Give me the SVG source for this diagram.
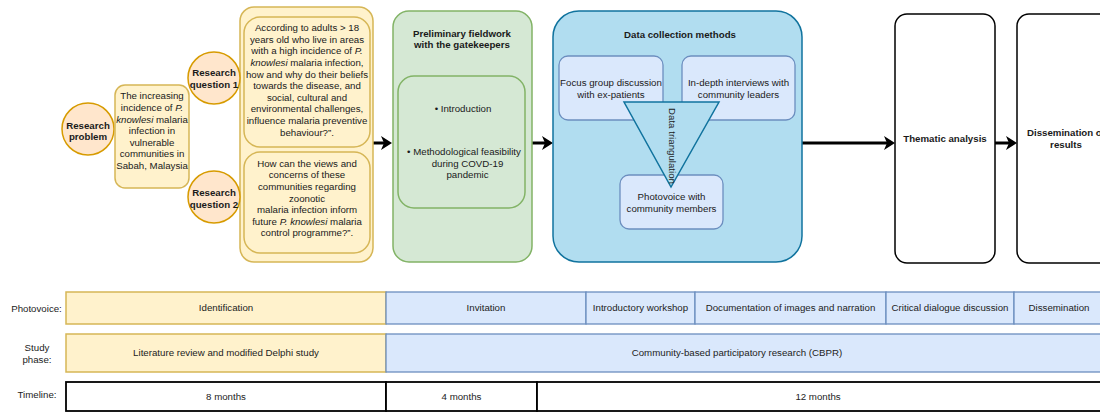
<svg xmlns="http://www.w3.org/2000/svg" width="1100" height="412" viewBox="0 0 1100 412">
<style>
text{font-family:"Liberation Sans",Arial,sans-serif;font-size:9.7px;fill:#1a1a1a;text-anchor:middle}
.b{font-weight:bold}
.i{font-style:italic}
.circ{fill:#ffe6cc;stroke:#d79b00;stroke-width:1.5}
.yel{fill:#fff2cc;stroke:#d6b656;stroke-width:1.5}
.grn{fill:#d5e8d4;stroke:#82b366;stroke-width:1.5}
.blu{fill:#b1ddf0;stroke:#10739e;stroke-width:1.5}
.lb{fill:#dae8fc;stroke:#6c8ebf;stroke-width:1.3}
.wht{fill:#ffffff;stroke:#000000;stroke-width:1.5}
.tl{fill:#ffffff;stroke:#000000;stroke-width:1.8}
.conn{fill:none;stroke:#000000;stroke-width:3}
.lbl{fill:#222}
</style>
<defs>
<marker id="arr" markerUnits="userSpaceOnUse" markerWidth="12" markerHeight="16" refX="3" refY="8" orient="auto">
<path d="M0,1 L11,8 L0,15 L3,8 z" fill="#000"/>
</marker>
</defs>

<g id="connectors">
<path class="conn" d="M373,143 L384,143" marker-end="url(#arr)"/>
<path class="conn" d="M532,143 L545,143" marker-end="url(#arr)"/>
<path class="conn" d="M802,143 L887,143" marker-end="url(#arr)"/>
<path class="conn" d="M995,143 L1009,143" marker-end="url(#arr)"/>
</g>

<g id="research-problem">
<circle class="circ" cx="88" cy="129" r="26"/>
<text class="b" x="88" y="128.5">Research</text>
<text class="b" x="88" y="140">problem</text>
</g>

<g id="problem-text">
<rect class="yel" x="115" y="85" width="74" height="103" rx="10"/>
<text x="152" y="99.4">The increasing</text>
<text x="152" y="111">incidence of <tspan class="i">P.</tspan></text>
<text x="152" y="122.6"><tspan class="i">knowlesi</tspan> malaria</text>
<text x="152" y="134.2">infection in</text>
<text x="152" y="145.8">vulnerable</text>
<text x="152" y="157.4">communities in</text>
<text x="152" y="169">Sabah, Malaysia</text>
</g>

<g id="questions">
<rect class="yel" x="240" y="7" width="133" height="255" rx="14"/>
</g>

<g id="question-1-text">
<rect class="yel" x="244" y="17" width="126" height="130" rx="16"/>
<text x="307" y="31">According to adults &gt; 18</text>
<text x="307" y="42.7">years old who live in areas</text>
<text x="307" y="54.4">with a high incidence of <tspan class="i">P.</tspan></text>
<text x="307" y="66"><tspan class="i">knowlesi</tspan> malaria infection,</text>
<text x="307" y="77.6">how and why do their beliefs</text>
<text x="307" y="89.2">towards the disease, and</text>
<text x="307" y="100.8">social, cultural and</text>
<text x="307" y="112.4">environmental challenges,</text>
<text x="307" y="124">influence malaria preventive</text>
<text x="307" y="135.6">behaviour?”.</text>
</g>

<g id="question-2-text">
<rect class="yel" x="244" y="152" width="126" height="101" rx="16"/>
<text x="307" y="166.7">How can the views and</text>
<text x="307" y="178.3">concerns of these</text>
<text x="307" y="189.9">communities regarding</text>
<text x="307" y="201.5">zoonotic</text>
<text x="307" y="213.1">malaria infection inform</text>
<text x="307" y="224.7">future <tspan class="i">P. knowlesi</tspan> malaria</text>
<text x="307" y="236.3">control programme?”.</text>
</g>

<g id="research-question-1">
<circle class="circ" cx="214" cy="78" r="26"/>
<text class="b" x="214" y="76">Research</text>
<text class="b" x="214" y="87.7">question 1</text>
</g>

<g id="research-question-2">
<circle class="circ" cx="214" cy="197" r="26"/>
<text class="b" x="214" y="196">Research</text>
<text class="b" x="214" y="207.5">question 2</text>
</g>

<g id="preliminary-fieldwork">
<rect class="grn" x="393" y="11" width="139" height="251" rx="16"/>
<text class="b" x="462" y="36.7">Preliminary fieldwork</text>
<text class="b" x="462" y="47.7">with the gatekeepers</text>
<rect class="grn" x="398" y="76" width="127" height="132" rx="16"/>
<text x="463" y="112.4">• Introduction</text>
<text x="464" y="155.4">• Methodological feasibility</text>
<text x="467.5" y="166.7">during COVD-19</text>
<text x="467.5" y="178.4">pandemic</text>
</g>

<g id="data-collection">
<rect class="blu" x="553" y="11" width="249" height="251" rx="26"/>
<text class="b" x="680" y="38.4">Data collection methods</text>
</g>

<g id="focus-group">
<rect class="lb" x="559" y="56" width="104" height="64" rx="9"/>
<text x="611" y="86.4">Focus group discussion</text>
<text x="611" y="97.7">with ex-patients</text>
</g>

<g id="in-depth-interviews">
<rect class="lb" x="682" y="56" width="113" height="64" rx="9"/>
<text x="738.5" y="86.4">In-depth interviews with</text>
<text x="738.5" y="97.7">community leaders</text>
</g>

<g id="photovoice-members">
<rect class="lb" x="620" y="175" width="103" height="54" rx="9"/>
<text x="671.5" y="200.4">Photovoice with</text>
<text x="671.5" y="211.7">community members</text>
</g>

<g id="data-triangulation">
<polygon class="blu" points="624,102 719,102 671,187"/>
<text transform="translate(672,146) rotate(90)" x="0" y="3.4">Data triangulation</text>
</g>

<g id="thematic-analysis">
<rect class="wht" x="895" y="14" width="100" height="249" rx="12"/>
<text class="b" x="945" y="141.5">Thematic analysis</text>
</g>

<g id="dissemination-results">
<rect class="wht" x="1017" y="14" width="100" height="249" rx="12"/>
<text class="b" x="1066" y="136.4">Dissemination of</text>
<text class="b" x="1066" y="147.7">results</text>
</g>

<g id="row-labels">
<text class="lbl" x="36.5" y="312.4">Photovoice:</text>
<text class="lbl" x="37" y="351.4">Study</text>
<text class="lbl" x="37" y="363.4">phase:</text>
<text class="lbl" x="37" y="398">Timeline:</text>
</g>

<g id="photovoice-row">
<rect class="yel" x="66" y="292" width="320" height="32"/>
<text class="lbl" x="226" y="311.4">Identification</text>
<rect class="lb" x="386" y="292" width="200" height="32"/>
<text class="lbl" x="486" y="311.4">Invitation</text>
<rect class="lb" x="586" y="292" width="109" height="32"/>
<text class="lbl" x="640.5" y="311.4">Introductory workshop</text>
<rect class="lb" x="695" y="292" width="191" height="32"/>
<text class="lbl" x="790.5" y="311.4">Documentation of images and narration</text>
<rect class="lb" x="886" y="292" width="128" height="32"/>
<text class="lbl" x="950" y="311.4">Critical dialogue discussion</text>
<rect class="lb" x="1014" y="292" width="90" height="32"/>
<text class="lbl" x="1059" y="311.4">Dissemination</text>
</g>

<g id="study-phase-row">
<rect class="yel" x="66" y="334" width="320" height="38"/>
<text class="lbl" x="226" y="356.4">Literature review and modified Delphi study</text>
<rect class="lb" x="386" y="334" width="720" height="38"/>
<text class="lbl" x="737" y="356.4">Community-based participatory research (CBPR)</text>
</g>

<g id="timeline-row">
<rect class="tl" x="66" y="382" width="320" height="29"/>
<text class="lbl" x="226" y="400">8 months</text>
<rect class="tl" x="386" y="382" width="151" height="29"/>
<text class="lbl" x="461.5" y="400">4 months</text>
<rect class="tl" x="537" y="382" width="570" height="29"/>
<text class="lbl" x="818" y="400">12 months</text>
</g>
</svg>
